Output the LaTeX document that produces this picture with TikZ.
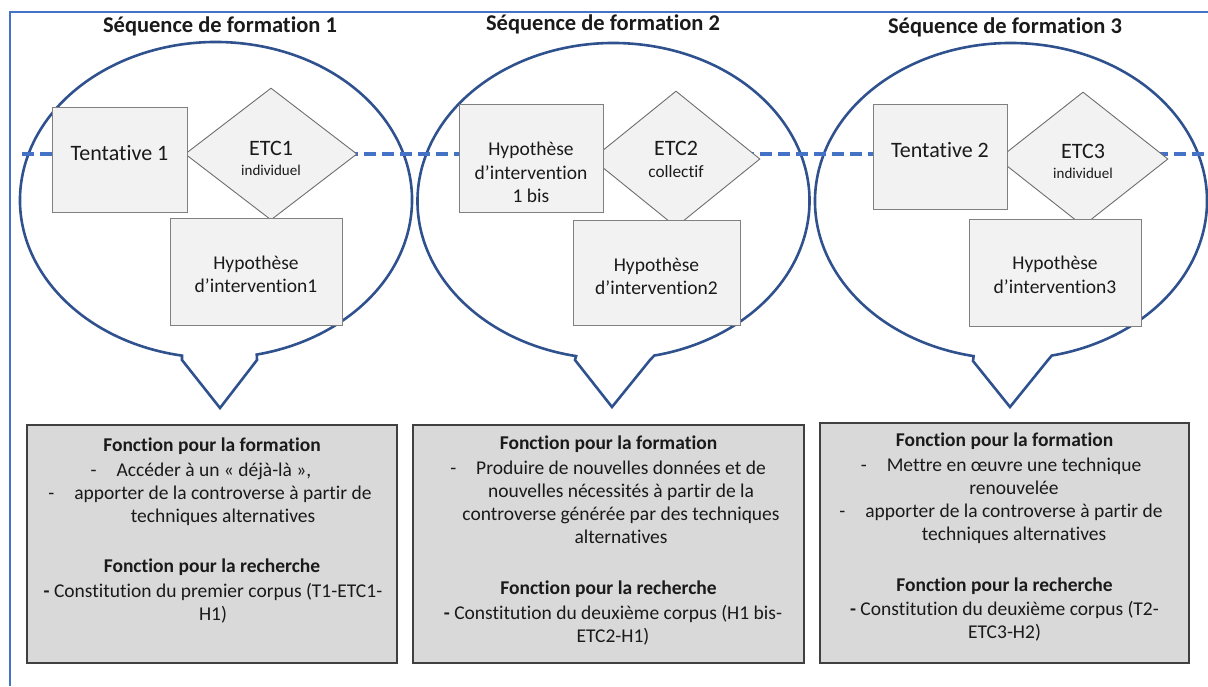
\documentclass[tikz,border=0pt]{standalone}
\usepackage{fontspec}
\setmainfont{Carlito}[Ligatures={NoCommon}]
\usetikzlibrary{shapes.geometric,calc}
\definecolor{framec}{HTML}{4472C4}
\definecolor{dashc}{HTML}{4472C4}
\definecolor{callc}{HTML}{2F528F}
\definecolor{ifill}{HTML}{F2F2F2}
\definecolor{iborder}{HTML}{808080}
\definecolor{dborder}{HTML}{6E6E6E}
\definecolor{ffill}{HTML}{D9D9D9}
\definecolor{fborder}{HTML}{404040}
\definecolor{txtc}{HTML}{1A1A1A}
\newcommand{\myfs}[2]{\fontsize{#1}{#2}\selectfont}
\newcommand{\dashitem}{\llap{-\hspace{20pt}}}
\tikzset{
  frameline/.style={draw=framec, line width=1.5pt},
  dashline/.style={draw=dashc, line width=4pt, dash pattern=on 12pt off 6pt},
  callout/.style={draw=callc, line width=2.6pt, line join=miter},
  ibox/.style={rectangle, draw=iborder, fill=ifill, line width=0.9pt, inner sep=0pt},
  dia/.style={diamond, draw=dborder, fill=ifill, line width=0.9pt, inner sep=0pt},
  dtxt/.style={inner sep=0pt, align=center, text=txtc, font=\myfs{22}{24}},
  fbox/.style={rectangle, draw=fborder, fill=ffill, line width=1.2pt, inner sep=0pt},
  ttl/.style={inner sep=0pt, text=txtc, font=\bfseries\myfs{22.5}{27}},
  itxt/.style={inner sep=0pt, text=txtc, align=center, font=\myfs{22}{24}},
  htxt/.style={inner sep=0pt, text=txtc, align=center, font=\myfs{19.5}{23.5}},
  fhead/.style={inner sep=0pt, anchor=north, text=txtc, font=\bfseries\myfs{19.5}{23}},
  fbody/.style={inner sep=0pt, anchor=north, text=txtc, align=center, font=\myfs{19.5}{23}},
}
\begin{document}
\begin{tikzpicture}[x=1pt, y=1pt, yscale=-1]
\useasboundingbox (0,0) rectangle (1208,686);
% frame
\coordinate (fb) at (10,686);
\coordinate (fc) at (10,12);
\coordinate (fr) at (1208,12);
\draw[frameline] (fb) -- (fc) -- (fr);

% titles
\node[ttl] (s1) at (220,26) {Séquence de formation 1};
\node[ttl] (s2) at (603,24) {Séquence de formation 2};
\node[ttl] (s3) at (1005,27) {Séquence de formation 3};

% callouts
\coordinate (c1) at (216,200);
\coordinate (c2) at (613.5,201);
\coordinate (c3) at (1011,201);
\draw[callout] ($(c1)+(100:196 and 158)$) arc[start angle=100, end angle=438, x radius=196, y radius=158]
  -- (257,360) -- (220,408) -- (182,360) -- cycle;
\draw[callout] ($(c2)+(101:196 and 158)$) arc[start angle=101, end angle=438, x radius=196, y radius=158]
  -- (650,360) -- (612,407) -- (575,360) -- cycle;
\draw[callout] ($(c3)+(101:196 and 158)$) arc[start angle=101, end angle=438, x radius=196, y radius=158]
  -- (1048,360) -- (1010,407) -- (973,361) -- cycle;

% dashed line
\coordinate (dl) at (22,153.5);
\coordinate (dr) at (1208,153.5);
\draw[dashline] (dl) -- (dr);

% diamonds
\node[dia, minimum width=172pt, minimum height=132pt] (d1) at (271,154) {};
\node[dia, minimum width=168pt, minimum height=136pt] (d2) at (676,159) {};
\node[dia, minimum width=170pt, minimum height=134pt] (d3) at (1083,159) {};
\node[dtxt] (d1x) at (271,158.5) {ETC1\\[-4pt]{\myfs{15}{17}individuel}};
\node[dtxt] (d2x) at (676,159.5) {ETC2\\[-2pt]{\myfs{17.3}{19}collectif}};
\node[dtxt] (d3x) at (1083,161) {ETC3\\[-4pt]{\myfs{15}{17}individuel}};

% inner boxes
\node[ibox, minimum width=135pt, minimum height=105pt] (t1) at (119.5,159.5) {};
\node[ibox, minimum width=172pt, minimum height=107pt] (h1) at (256,271.5) {};
\node[ibox, minimum width=144pt, minimum height=108pt] (h1b) at (531,158) {};
\node[ibox, minimum width=167pt, minimum height=105pt] (h2) at (656.5,272.5) {};
\node[ibox, minimum width=134pt, minimum height=105pt] (t2) at (940,156.5) {};
\node[ibox, minimum width=172pt, minimum height=107pt] (h3) at (1055,272.5) {};

\node[itxt] (t1x) at (119.5,153) {Tentative 1};
\node[htxt] (h1x) at (256,274.5) {Hypothèse\\d’intervention1};
\node[htxt] (h1bx) at (531,172.5) {Hypothèse\\d’intervention\\1 bis};
\node[htxt] (h2x) at (656.5,276.5) {Hypothèse\\d’intervention2};
\node[itxt] (t2x) at (940,150) {Tentative 2};
\node[htxt] (h3x) at (1055,275) {Hypothèse\\d’intervention3};

% function boxes
\node[fbox, minimum width=370pt, minimum height=238pt] (b1) at (212,544) {};
\node[fbox, minimum width=391pt, minimum height=238pt] (b2) at (608.5,544) {};
\node[fbox, minimum width=369pt, minimum height=240pt] (b3) at (1004.5,543) {};

% box 1 text
\node[fhead] (b1h1) at (212,438) {Fonction pour la formation};
\node[fbody] (b1l) at (223,463) {\dashitem Accéder à un « déjà-là »,\hspace*{18pt}\\
  \dashitem apporter de la controverse à partir de\\ techniques alternatives};
\node[fhead] (b1h2) at (212,559) {Fonction pour la recherche};
\node[fbody] (b1r) at (213,583) {\textbf{-} Constitution du premier corpus (T1-ETC1-\\H1)};

% box 2 text
\node[fhead] (b2h1) at (608.5,436) {Fonction pour la formation};
\node[fbody] (b2l) at (621,461) {\dashitem Produire de nouvelles données et de\\
  nouvelles nécessités à partir de la\\controverse générée par des techniques\\alternatives};
\node[fhead] (b2h2) at (608.5,581) {Fonction pour la recherche};
\node[fbody] (b2r) at (613,605) {\textbf{-} Constitution du deuxième corpus (H1 bis-\\ETC2-H1)};

% box 3 text
\node[fhead] (b3h1) at (1004.5,433) {Fonction pour la formation};
\node[fbody] (b3l) at (1014,458) {\dashitem Mettre en œuvre une technique\\renouvelée\\
  \dashitem apporter de la controverse à partir de\\techniques alternatives};
\node[fhead] (b3h2) at (1004.5,578) {Fonction pour la recherche};
\node[fbody] (b3r) at (1004.5,601) {\textbf{-} Constitution du deuxième corpus (T2-\\ETC3-H2)};
\end{tikzpicture}
\end{document}
